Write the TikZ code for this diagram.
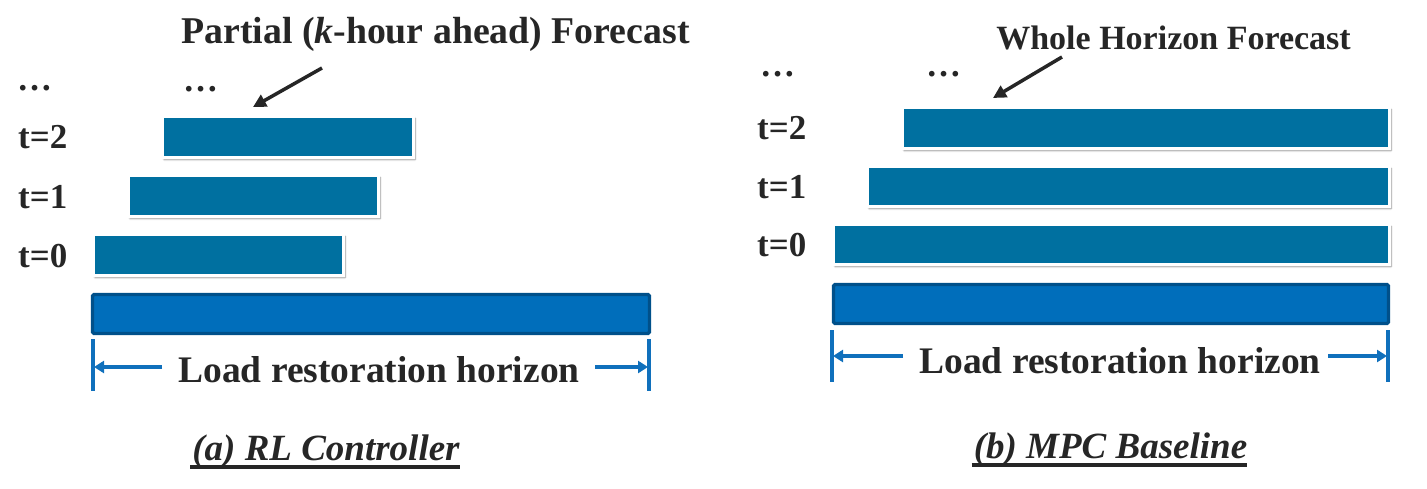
\documentclass[tikz,border=0pt]{standalone}
\usepackage{fontspec}
\setmainfont{Liberation Serif}
\usetikzlibrary{arrows.meta,shadows.blur}
\definecolor{barblue}{HTML}{0070A0}
\definecolor{bigblue}{HTML}{006EBB}
\definecolor{bigedge}{HTML}{00508A}
\definecolor{dimblue}{HTML}{1070BC}
\definecolor{txt}{HTML}{262626}
\newcommand{\myfs}[1]{\fontsize{#1}{#1}\selectfont}
\begin{document}
\begin{tikzpicture}[x=1pt,y=-1pt,
  smallbar/.style={draw=white, line width=3pt, fill=barblue, inner sep=0pt, minimum height=41pt,
    blur shadow={shadow xshift=1.5pt, shadow yshift=-2pt, shadow blur steps=6, shadow opacity=45}},
  bigbar/.style={draw=bigedge, line width=3.2pt, fill=bigblue, inner sep=0pt, rounded corners=1.5pt, minimum height=39pt},
  lbl/.style={font=\myfs{35}\bfseries, text=txt, inner sep=0pt, anchor=base west},
  horiz/.style={font=\myfs{37.5}\bfseries, text=txt, inner sep=0pt, anchor=base},
  captxt/.style={font=\myfs{37}\bfseries\itshape, text=txt, inner sep=0pt, anchor=base},
  ttl/.style={text=txt, inner sep=0pt, anchor=base},
  fcarrow/.style={draw=txt, line width=3.5pt, -{Triangle[length=13pt,width=13pt]}},
  dimline/.style={draw=dimblue, line width=3.5pt},
  dimarrow/.style={draw=dimblue, line width=3.5pt, -{Triangle[length=10pt,width=12pt]}},
  uline/.style={draw=txt, line width=4pt}
]
\useasboundingbox (0,0) rectangle (1427,489);

% ---------------- (a) RL Controller ----------------
\node[ttl, font=\myfs{37.8}\bfseries] (titleA) at (435.5,44) {Partial (\textit{k}-hour ahead) Forecast};
\node[lbl] (dotsA1) at (17,91) {…};
\node[lbl] (dotsA2) at (183,92) {…};
\node[lbl] (tA2) at (18,149) {t=2};
\node[lbl] (tA1) at (18,209) {t=1};
\node[lbl] (tA0) at (18,267) {t=0};

\node[smallbar, minimum width=251pt] (barA2) at (288,137) {};
\node[smallbar, minimum width=250pt] (barA1) at (253.5,196) {};
\node[smallbar, minimum width=250pt] (barA0) at (218.5,255) {};
\node[bigbar, minimum width=557pt] (bigA) at (371,314) {};

\coordinate (arrAt) at (322,68);
\coordinate (arrAh) at (253,107);
\draw[fcarrow] (arrAt) -- (arrAh);

\coordinate (dA1t) at (93,339);
\coordinate (dA1b) at (93,391);
\coordinate (dA2t) at (649,339);
\coordinate (dA2b) at (649,391);
\draw[dimline] (dA1t) -- (dA1b);
\draw[dimline] (dA2t) -- (dA2b);
\node[horiz] (horA) at (379,382) {Load restoration horizon};
\coordinate (aAl) at (162,367);
\coordinate (aAle) at (94,367);
\coordinate (aAr) at (595,367);
\coordinate (aAre) at (648,367);
\draw[dimarrow] (aAl) -- (aAle);
\draw[dimarrow] (aAr) -- (aAre);

\node[captxt] (capA) at (326,460) {(a) RL Controller};
\draw[uline] ([xshift=-2pt,yshift=-6.5pt]capA.base west) -- ([yshift=-6.5pt]capA.base east);

% ---------------- (b) MPC Baseline ----------------
\node[ttl, font=\myfs{34}\bfseries] (titleB) at (1173.5,50) {Whole Horizon Forecast};
\node[lbl] (dotsB1) at (760,77) {…};
\node[lbl] (dotsB2) at (926,77) {…};
\node[lbl] (tB2) at (757,140) {t=2};
\node[lbl] (tB1) at (757,199) {t=1};
\node[lbl] (tB0) at (757,257) {t=0};

\node[smallbar, minimum width=487pt] (barB2) at (1146,128) {};
\node[smallbar, minimum width=522pt, minimum height=40pt] (barB1) at (1128.5,186.5) {};
\node[smallbar, minimum width=556pt, minimum height=40pt] (barB0) at (1111.5,244.5) {};
\node[bigbar, minimum width=555pt] (bigB) at (1111,304) {};

\coordinate (arrBt) at (1062,57);
\coordinate (arrBh) at (993,98);
\draw[fcarrow] (arrBt) -- (arrBh);

\coordinate (dB1t) at (832,330);
\coordinate (dB1b) at (832,382);
\coordinate (dB2t) at (1388,330);
\coordinate (dB2b) at (1388,382);
\draw[dimline] (dB1t) -- (dB1b);
\draw[dimline] (dB2t) -- (dB2b);
\node[horiz] (horB) at (1120,373) {Load restoration horizon};
\coordinate (aBl) at (903,356);
\coordinate (aBle) at (833,356);
\coordinate (aBr) at (1328,356);
\coordinate (aBre) at (1387,356);
\draw[dimarrow] (aBl) -- (aBle);
\draw[dimarrow] (aBr) -- (aBre);

\node[captxt] (capB) at (1110.5,458) {(b) MPC Baseline};
\draw[uline] ([xshift=-2pt,yshift=-6.5pt]capB.base west) -- ([yshift=-6.5pt]capB.base east);
\end{tikzpicture}
\end{document}
